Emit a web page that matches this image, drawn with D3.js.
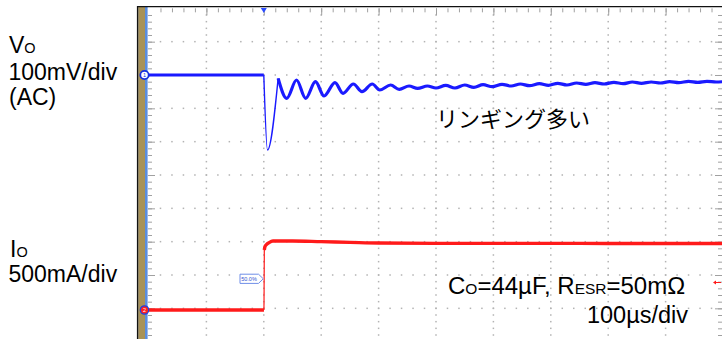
<!DOCTYPE html>
<html><head><meta charset="utf-8">
<script src="https://cdn.jsdelivr.net/npm/d3@7"></script>
<style>html,body{margin:0;padding:0;background:#fff;}svg{display:block;}</style>
</head><body>
<script>
// ---- data ----
// Vo (mV, AC) vs time (µs), 100mV/div, 100µs/div
const voTime = [-200, 0, 6.4, 25, 40, 57, 73, 90, 105, 124, 138, 156, 171, 189, 202, 221, 236, 253, 268, 285, 300,
  317, 333, 350, 366, 382, 398, 415, 431, 447, 463, 480, 496, 512, 528, 545, 561, 577, 593, 610, 626, 642, 658, 675, 691, 707, 723, 740, 756, 772, 788, 800];
const voMv = [0, 0, -225, -10, -70, -15, -70, -20, -63, -23, -55, -27, -50, -27, -45, -30, -43, -33, -40, -33, -39,
  -31, -39, -30, -37, -29, -35, -28, -33, -27, -32, -26, -31, -25, -30, -24, -28, -23, -27, -22, -26, -21, -25, -21, -24, -20, -23, -19, -22, -19, -21, -20];
// Io (A) vs time (µs), 500mA/div
const ioTime = [-200, 0.3, 0.9, 2, 5, 9, 16, 50, 100, 150, 200, 300, 400, 500, 600, 700, 800];
const ioAmp  = [0, 0, 0.9, 0.95, 0.985, 1.01, 1.035, 1.035, 1.025, 1.015, 1.005, 1.0, 1.0, 1.0, 0.998, 0.998, 0.998];
const gridTimes = [-100, 0, 100, 200, 300, 400, 500, 600, 700];
const gridDivs = [1, 2, 3, 4, 5, 6, 7, 8, 9, 10];
const labelVo = ["V", "O", "100mV/div", "(AC)"];
const labelIo = ["I", "O", "500mA/div"];
const noteText = "リンギング多い";
const condText = ["C", "O", "=44µF, R", "ESR", "=50mΩ"];
const timeText = "100µs/div";
const trigText = "50.0%";

const W = 722, H = 339;
const svg = d3.select("body").append("svg").attr("width", W).attr("height", H)
  .style("font-family", "'Liberation Sans', Arial, sans-serif");

const x = d3.scaleLinear().domain([-200, 800]).range([149, 723]);
const gy = d3.scaleLinear().domain([0, 10]).range([8.33, 341.67]);
const yV = d3.scaleLinear().domain([0, 100]).range([75, 41.67]);
const yI = d3.scaleLinear().domain([0, 0.5]).range([310, 276.67]);

// grid dots
const gGrid = svg.append("g").attr("fill", "#b3b3b3");
gridDivs.forEach(k => {
  d3.range(-180, 800, 20).forEach(t => {
    gGrid.append("rect").attr("x", x(t) - 0.75).attr("y", gy(k) - 0.75).attr("width", 1.5).attr("height", 1.5);
  });
});
gridTimes.forEach(t => {
  d3.range(0.2, 10.01, 0.2).forEach(d => {
    gGrid.append("rect").attr("x", x(t) - 0.75).attr("y", gy(d) - 0.75).attr("width", 1.5).attr("height", 1.5);
  });
});

// tick axes
function styleAxis(g) { g.select(".domain").remove(); g.selectAll("line").attr("stroke", "#a0a0a0").attr("stroke-width", 1); }
svg.append("g").attr("transform", `translate(0,${gy(0)})`)
  .call(d3.axisBottom(x).tickValues(d3.range(-180, 800, 20)).tickSize(4).tickFormat("")).call(styleAxis);
svg.append("g").attr("transform", `translate(0,${gy(0)})`)
  .call(d3.axisBottom(x).tickValues(gridTimes).tickSize(7).tickFormat("")).call(styleAxis);
svg.append("g").attr("transform", `translate(148,0)`)
  .call(d3.axisRight(gy).tickValues(d3.range(0.2, 10.01, 0.2)).tickSize(4).tickFormat("")).call(styleAxis);
svg.append("g").attr("transform", `translate(148,0)`)
  .call(d3.axisRight(gy).tickValues(gridDivs).tickSize(7).tickFormat("")).call(styleAxis);
svg.append("g").attr("transform", `translate(722,0)`)
  .call(d3.axisLeft(gy).tickValues(d3.range(0.2, 10.01, 0.2)).tickSize(4).tickFormat("")).call(styleAxis);
svg.append("g").attr("transform", `translate(722,0)`)
  .call(d3.axisLeft(gy).tickValues(gridDivs).tickSize(7).tickFormat("")).call(styleAxis);

// frame
svg.append("rect").attr("x", 138.3).attr("y", 7).attr("width", 6.9).attr("height", H).attr("fill", "#a89257");
svg.append("rect").attr("x", 145).attr("y", 7).attr("width", 2.6).attr("height", H).attr("fill", "#5a8ee0");
svg.append("line").attr("x1", 137.6).attr("x2", 137.6).attr("y1", 6).attr("y2", H).attr("stroke", "#111").attr("stroke-width", 1.4);
svg.append("line").attr("x1", 137).attr("x2", W).attr("y1", 6.6).attr("y2", 6.6).attr("stroke", "#111").attr("stroke-width", 1.4);

// traces
const vo = voTime.map((t, i) => [t, voMv[i]]);
const io = ioTime.map((t, i) => [t, ioAmp[i]]);
const lineV = d3.line().x(d => x(d[0])).y(d => yV(d[1])).curve(d3.curveMonotoneX);
const lineI = d3.line().x(d => x(d[0])).y(d => yI(d[1])).curve(d3.curveMonotoneX);
const blue = "#1a1aff", red = "#ff1a1a";
svg.append("path").attr("d", lineV(vo.slice(0, 2))).attr("fill", "none").attr("stroke", blue).attr("stroke-width", 3.2);
svg.append("path").attr("d", lineV(vo.slice(1, 4))).attr("fill", "none").attr("stroke", blue).attr("stroke-width", 1.4);
svg.append("path").attr("d", lineV(vo.slice(3))).attr("fill", "none").attr("stroke", blue).attr("stroke-width", 3.2).attr("stroke-linejoin", "round");
svg.append("path").attr("d", lineI(io.slice(0, 2))).attr("fill", "none").attr("stroke", red).attr("stroke-width", 3.4);
svg.append("path").attr("d", lineI(io.slice(1, 3))).attr("fill", "none").attr("stroke", red).attr("stroke-width", 1.2);
svg.append("path").attr("d", lineI(io.slice(2))).attr("fill", "none").attr("stroke", red).attr("stroke-width", 3.4).attr("stroke-linejoin", "round");

// trigger marker at top
const tx = x(0);
svg.append("path").attr("d", `M${tx - 3},8 L${tx + 3},8 L${tx},13 Z`).attr("fill", "#2a4bff");

// 50% trigger label
const ly = 278.8;
svg.append("path").attr("d", `M240,${ly - 4.6} L258.5,${ly - 4.6} L263.3,${ly} L258.5,${ly + 4.6} L240,${ly + 4.6} Z`)
  .attr("fill", "#fff").attr("stroke", "#6f8ee8").attr("stroke-width", 1);
svg.append("text").attr("x", 249).attr("y", ly + 2).attr("text-anchor", "middle").attr("font-size", 5.5).attr("fill", "#3050d0").text(trigText);

// channel markers
svg.append("circle").attr("cx", 144.5).attr("cy", yV(0)).attr("r", 4.2).attr("fill", "#fff").attr("stroke", "#1530e0").attr("stroke-width", 1.8);
svg.append("text").attr("x", 144.5).attr("y", yV(0) + 2).attr("text-anchor", "middle").attr("font-size", 5.5).attr("fill", "#1530e0").text("1");
svg.append("circle").attr("cx", 144.5).attr("cy", yI(0)).attr("r", 4.2).attr("fill", "#ff2020").attr("stroke", "#2040e0").attr("stroke-width", 1.3);
svg.append("text").attr("x", 144.5).attr("y", yI(0) + 2).attr("text-anchor", "middle").attr("font-size", 5.5).attr("fill", "#fff").text("2");

// right trigger level arrow
const ay = 282.5;
svg.append("path").attr("d", `M713,${ay} L716,${ay - 2} L716,${ay + 2} Z`).attr("fill", red);
svg.append("line").attr("x1", 715).attr("x2", 721).attr("y1", ay).attr("y2", ay).attr("stroke", red).attr("stroke-width", 1);

// left labels
const fs = 23, fsSub = 14.5;
let t1 = svg.append("text").attr("x", 9).attr("y", 53).attr("font-size", fs).attr("fill", "#000");
t1.append("tspan").text(labelVo[0]); t1.append("tspan").attr("font-size", fsSub).text(labelVo[1]);
svg.append("text").attr("x", 8.5).attr("y", 79.5).attr("font-size", fs).text(labelVo[2]);
svg.append("text").attr("x", 9).attr("y", 105).attr("font-size", fs).text(labelVo[3]);
let t2 = svg.append("text").attr("x", 10).attr("y", 256.5).attr("font-size", fs);
t2.append("tspan").text(labelIo[0]); t2.append("tspan").attr("font-size", fsSub).text(labelIo[1]);
svg.append("text").attr("x", 8.5).attr("y", 281.5).attr("font-size", fs).text(labelIo[2]);

// annotations
svg.append("text").attr("x", 436).attr("y", 126.5).attr("font-size", 22)
  .style("font-family", "'Noto Sans CJK JP', sans-serif").text(noteText);
let t3 = svg.append("text").attr("x", 448).attr("y", 294).attr("font-size", 24);
t3.append("tspan").text(condText[0]);
t3.append("tspan").attr("font-size", 15.5).text(condText[1]);
t3.append("tspan").text(condText[2]);
t3.append("tspan").attr("font-size", 15.5).text(condText[3]);
t3.append("tspan").text(condText[4]);
svg.append("text").attr("x", 688).attr("y", 323).attr("text-anchor", "end").attr("font-size", 23.5).text(timeText);
</script>
</body></html>
